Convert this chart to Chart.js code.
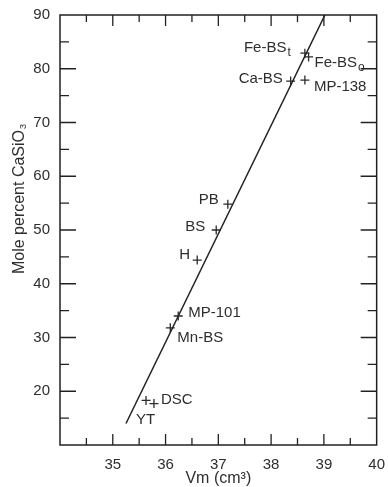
<!DOCTYPE html>
<html>
<head>
<meta charset="utf-8">
<script src="https://cdn.jsdelivr.net/npm/chart.js@4"></script>
<style>
  html, body { margin: 0; padding: 0; background: #fff; }
  #wrap { width: 388px; height: 487px; }
</style>
</head>
<body>
<div id="wrap"><canvas id="myChart"></canvas></div>
<script>
// samples
const sampleNames = ["Fe-BS", "Fe-BS", "Ca-BS", "MP-138", "PB", "BS", "H", "MP-101", "Mn-BS", "DSC", "YT"];
const sampleSubs = ["t", "o", "", "", "", "", "", "", "", "", ""];
const vm = [38.64, 38.71, 38.37, 38.64, 37.18, 36.96, 36.60, 36.24, 36.09, 35.78, 35.63];
const molePct = [82.9, 82.2, 77.7, 77.9, 54.8, 50.0, 44.4, 34.0, 31.8, 17.7, 18.3];

// fitted line end points
const fitVm = [35.25, 39.02];
const fitMole = [14, 90];

const xTickLabels = [35, 36, 37, 38, 39, 40];
const yTickLabels = [20, 30, 40, 50, 60, 70, 80, 90];

// label placement, pixels from the point (left edge of the text, vertical centre)
const labelOffsets = [
  [-61, -5], [6, 6], [-52, -2], [9, 7], [-29, -4], [-31, -3],
  [-18, -5], [10, -3], [7, 10], [7, -4], [-10, 19]
];

const ink = "#222";
const textInk = "#2e2e2e";
const fontFamily = "'Liberation Sans', Arial, sans-serif";

const frameAndLabels = {
  id: "frameAndLabels",
  afterDraw(chart) {
    const { ctx, chartArea: a, scales } = chart;
    const xs = scales.x, ys = scales.y;
    ctx.save();

    // frame
    ctx.strokeStyle = ink;
    ctx.lineWidth = 1.5;
    ctx.strokeRect(a.left, a.top, a.right - a.left, a.bottom - a.top);

    // inward ticks on all four sides
    ctx.lineWidth = 1.3;
    ctx.beginPath();
    for (let v = xs.min + 0.5; v < xs.max; v += 0.5) {
      const px = xs.getPixelForValue(v);
      const len = Number.isInteger(v) ? 11 : 7;
      ctx.moveTo(px, a.bottom); ctx.lineTo(px, a.bottom - len);
      ctx.moveTo(px, a.top); ctx.lineTo(px, a.top + len);
    }
    for (let v = ys.min + 5; v < ys.max; v += 5) {
      const py = ys.getPixelForValue(v);
      const len = v % 10 === 0 ? 16 : 9;
      ctx.moveTo(a.left, py); ctx.lineTo(a.left + len, py);
      ctx.moveTo(a.right, py); ctx.lineTo(a.right - len, py);
    }
    ctx.stroke();

    // sample labels
    ctx.fillStyle = textInk;
    ctx.textBaseline = "middle";
    ctx.textAlign = "left";
    sampleNames.forEach((name, i) => {
      const px = xs.getPixelForValue(vm[i]) + labelOffsets[i][0];
      const py = ys.getPixelForValue(molePct[i]) + labelOffsets[i][1];
      ctx.font = "15px " + fontFamily;
      ctx.fillText(name, px, py);
      if (sampleSubs[i]) {
        const w = ctx.measureText(name).width;
        ctx.font = "12px " + fontFamily;
        ctx.fillText(sampleSubs[i], px + w + 1, py + 5);
      }
    });

    // y axis title with subscript
    ctx.translate(20, 199);
    ctx.rotate(-Math.PI / 2);
    ctx.font = "16px " + fontFamily;
    const main = "Mole percent CaSiO";
    const mw = ctx.measureText(main).width;
    ctx.font = "9px " + fontFamily;
    const sw = ctx.measureText("3").width;
    const start = -(mw + sw + 1) / 2;
    ctx.font = "16px " + fontFamily;
    ctx.fillText(main, start, 0);
    ctx.font = "9px " + fontFamily;
    ctx.fillText("3", start + mw + 1, 4);
    ctx.restore();
  }
};

const ctx = document.getElementById("myChart").getContext("2d");

new Chart(ctx, {
  type: "scatter",
  data: {
    datasets: [
      {
        label: "fit",
        data: fitVm.map((x, i) => ({ x: x, y: fitMole[i] })),
        showLine: true,
        borderColor: ink,
        borderWidth: 1.5,
        pointRadius: 0,
      },
      {
        label: "samples",
        data: vm.map((x, i) => ({ x: x, y: molePct[i] })),
        pointStyle: "cross",
        pointRadius: 4.5,
        borderColor: "#2a2a2a",
        borderWidth: 1.3,
      },
    ],
  },
  options: {
    responsive: true,
    maintainAspectRatio: false,
    animation: false,
    layout: { padding: { top: 15, right: 7, left: 0, bottom: 0 } },
    plugins: {
      legend: { display: false },
      tooltip: { enabled: false },
    },
    scales: {
      x: {
        type: "linear",
        min: 34,
        max: 40,
        afterFit: (s) => { s.height = 42; },
        afterBuildTicks: (s) => { s.ticks = xTickLabels.map((v) => ({ value: v })); },
        grid: { display: false },
        border: { display: false },
        ticks: {
          padding: 3,
          color: textInk,
          font: { family: fontFamily, size: 15 },
          maxRotation: 0,
        },
        title: {
          display: true,
          text: "Vm (cm³)",
          color: textInk,
          font: { family: fontFamily, size: 16, lineHeight: 1 },
          padding: { top: 0, bottom: 0 },
        },
      },
      y: {
        type: "linear",
        min: 10,
        max: 90,
        afterFit: (s) => { s.width = 60; },
        afterBuildTicks: (s) => { s.ticks = yTickLabels.map((v) => ({ value: v })); },
        grid: { display: false },
        border: { display: false },
        ticks: {
          padding: 2,
          color: textInk,
          font: { family: fontFamily, size: 15 },
        },
      },
    },
  },
  plugins: [frameAndLabels],
});
</script>
</body>
</html>
